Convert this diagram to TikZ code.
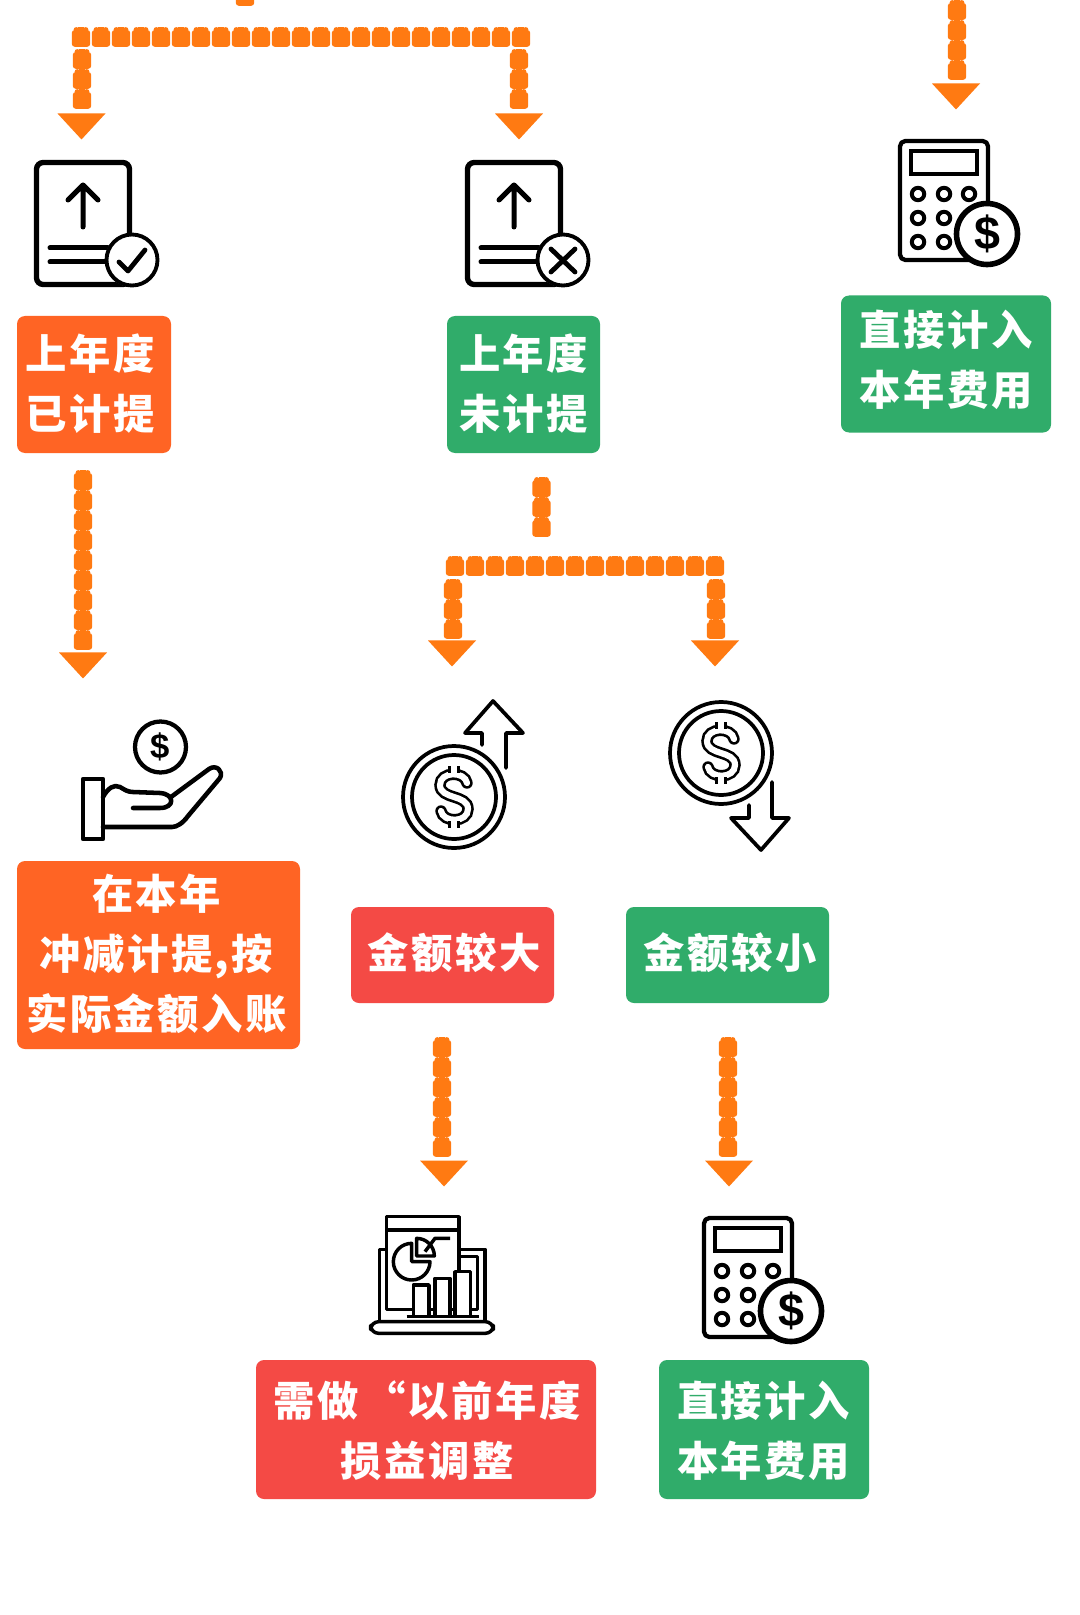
\documentclass[tikz,border=0pt]{standalone}
\usepackage{fontspec}
\usetikzlibrary{shapes.geometric,decorations.markings}
\newfontfamily\cjkb[LetterSpace=6]{Noto Sans CJK SC}
\newfontfamily\dollarfont{Liberation Sans}
\definecolor{dotorange}{RGB}{255,122,18}
\definecolor{boxorange}{RGB}{255,100,36}
\definecolor{boxgreen}{RGB}{48,172,106}
\definecolor{boxred}{RGB}{244,74,69}
\tikzset{
  tag/.style={rounded corners=6pt,inner sep=0pt},
  tago/.style={tag,fill=boxorange},
  tagg/.style={tag,fill=boxgreen},
  tagr/.style={tag,fill=boxred},
  tagtext/.style={text=white,inner sep=0pt,align=center,
    font=\cjkb\bfseries\fontsize{31}{45.2}\selectfont},
  tipnode/.style={isosceles triangle,isosceles triangle apex angle=80,shape border rotate=270,
    fill=dotorange,inner sep=0pt,outer sep=0pt,minimum height=19.5pt,minimum width=36pt,isosceles triangle stretches=true},
  dotline/.style={decorate,decoration={markings,
    mark=between positions 0 and 1 step 15pt with {\pgftransformresetnontranslations
      \fill[dotorange,rounded corners=2.2pt] (-9.2,-7) rectangle (9.2,9.8);
      \fill[dotorange] (-4.7,-7.2) circle (2.7) (4.7,-7.2) circle (2.7);
      \fill[dotorange] (-3,-9.8) rectangle (3,-4);}}},
  ico/.style={line width=4pt,draw=black,line cap=round,line join=round},
  doublesign/.style={draw=black,double=white,line width=2pt,double distance=4.6pt,line cap=round},
  pics/updoc/.style={code={
    \draw[ico,rounded corners=5pt] (36.5,162.5) rectangle (129.5,284.5);
    \draw[ico,line width=3.75pt] (83,227) -- (83,186) (68,200) -- (83,185) -- (98,200);
    \draw[ico,line width=3.75pt] (50,248) -- (108,248) (50,262) -- (108,262);
    \fill[white] (132,260) circle (27);
    \draw[line width=2.9pt] (132,260) circle (25.5);
  }},
  pics/calcdollar/.style={code={
    \draw[ico,rounded corners=4pt,line width=3.2pt] (704,1218) rectangle (792,1337);
    \draw[line width=3.2pt] (715,1228) rectangle (781,1251);
    \foreach \cx in {722,748,773} \foreach \cy in {1271,1295,1319}
      \draw[line width=3pt] (\cx,\cy) circle (6.2);
    \fill[white] (791,1311) circle (32);
    \draw[line width=4.2pt] (791,1311) circle (30.5);
    \node[inner sep=0pt,font=\dollarfont\bfseries\fontsize{35}{35}\selectfont] at (791,1311) {\$};
  }},
  pics/coin/.style={code={
    \draw[line width=2.8pt] (0,0) circle (51);
    \draw[line width=2.8pt] (0,0) circle (42);
    \draw[doublesign] (13,-14) .. controls (11,-26) and (-14,-26) .. (-14,-12)
       .. controls (-14,3) and (14,-3) .. (14,12) .. controls (14,26) and (-11,26) .. (-13,14);
    \draw[doublesign,line cap=butt] (0,-31) -- (0,-24) (0,24) -- (0,31);
  }},
}
\begin{document}
\begin{tikzpicture}[x=.75pt,y=-.75pt]
\useasboundingbox (0,0) rectangle (1080,1615);
\fill[white] (0,0) rectangle (1080,1615);

% label boxes
\node[tago,minimum width=115.5pt,minimum height=102.75pt] (a1) at (94,384.5) {};
\node[tagg,minimum width=114.75pt,minimum height=102.75pt] (a2) at (523.5,384.5) {};
\node[tagg,minimum width=157.5pt,minimum height=102.75pt] (a3) at (946,364) {};
\node[tago,minimum width=212.25pt,minimum height=141pt] (b1) at (158.5,955) {};
\node[tagr,minimum width=152.25pt,minimum height=72pt] (b2) at (452.5,955) {};
\node[tagg,minimum width=152.25pt,minimum height=72pt] (b3) at (727.5,955) {};
\node[tagr,minimum width=255pt,minimum height=104.25pt] (c1) at (426,1429.5) {};
\node[tagg,minimum width=157.5pt,minimum height=104.25pt] (c2) at (764,1429.5) {};

% label texts
\node[tagtext] (a1t) at (90,384) {上年度\\已计提};
\node[tagtext] (a2t) at (523.5,384) {上年度\\未计提};
\node[tagtext] (a3t) at (946,359.5) {直接计入\\本年费用};
\node[tagtext] (b1t) at (156.5,954) {在本年\\冲减计提,按\\实际金额入账};
\node[tagtext] (b2t) at (454,953) {金额较大};
\node[tagtext] (b3t) at (730,953) {金额较小};
\node[tagtext] (c1t) at (427,1431) {需做 \kern-4.6pt“以前年度\\损益调整};
\node[tagtext] (c2t) at (763.5,1431) {直接计入\\本年费用};

% arrow tips
\node[tipnode] (t1) at (81.5,124) {};
\node[tipnode] (t2) at (519,124) {};
\node[tipnode] (t3) at (956,94) {};
\node[tipnode] (t4) at (83,663) {};
\node[tipnode] (t5) at (452,651) {};
\node[tipnode] (t6) at (715,651) {};
\node[tipnode] (t7) at (444,1171) {};
\node[tipnode] (t8) at (729,1171) {};

% free connector ends
\coordinate (s0) at (245,-4);
\coordinate (s1) at (245,1);
\coordinate (h1) at (81,37);
\coordinate (h2) at (521.5,37);
\coordinate (v1a) at (82,59);
\coordinate (v1b) at (82,101);
\coordinate (v2a) at (519,59);
\coordinate (v2b) at (519,101);
\coordinate (r0) at (957,10);
\coordinate (r1) at (957,72);
\coordinate (l0) at (83,480);
\coordinate (l1) at (83,642);
\coordinate (m0) at (541.5,487);
\coordinate (m1) at (541.5,527);
\coordinate (n1) at (455,566);
\coordinate (n2) at (716,566);
\coordinate (o1a) at (453,589);
\coordinate (o1b) at (453,630);
\coordinate (o2a) at (716,589);
\coordinate (o2b) at (716,630);
\coordinate (p0) at (442,1047);
\coordinate (p1) at (442,1147);
\coordinate (q0) at (728,1047);
\coordinate (q1) at (728,1147);

% beaded connectors
\path[dotline] (s0) -- (s1);
\path[dotline] (h1) -- (h2);
\path[dotline] (v1a) -- (v1b);
\path[dotline] (v2a) -- (v2b);
\path[dotline] (r0) -- (r1);
\path[dotline] (l0) -- (l1);
\path[dotline] (m0) -- (m1);
\path[dotline] (n1) -- (n2);
\path[dotline] (o1a) -- (o1b);
\path[dotline] (o2a) -- (o2b);
\path[dotline] (p0) -- (p1);
\path[dotline] (q0) -- (q1);

% upload document icons
\pic {updoc};
\draw[line width=3.6pt,line cap=round,line join=round] (119,262) -- (128,271) -- (145,250);
\begin{scope}[shift={(431,0)}]
\pic {updoc};
\draw[line width=3.6pt,line cap=round] (120,249) -- (144,272) (144,249) -- (120,272);
\end{scope}

% calculators
\pic {calcdollar};
\pic[shift={(196,-1077)}] {calcdollar};

% hand
\draw[line width=3.2pt] (160.5,747) circle (25.5);
\node[inner sep=0pt,font=\dollarfont\bfseries\fontsize{26}{26}\selectfont] at (160.5,747) {\$};
\draw[ico,line width=3.4pt] (83,779) rectangle (103,839);
\draw[ico,line width=3.4pt] (103,797) .. controls (108,788) and (114,784) .. (120,787)
  .. controls (125,790) and (128,792) .. (133,792) -- (160,793)
  .. controls (175,794) and (175,808) .. (160,808) -- (133,808)
  (171,797) -- (209,769) .. controls (216,764) and (224,771) .. (220,778) -- (188,816)
  .. controls (183,823) and (177,827) .. (172,827) -- (103,827);

% coin with arrows
\pic at (454,797) {coin};
\draw[ico,line width=2.8pt] (482,745) -- (482,733) -- (465,733) -- (493,701) -- (523,733) -- (506,733) -- (506,768);
\pic at (721,753) {coin};
\draw[ico,line width=2.8pt] (749,805) -- (749,818) -- (731,818) -- (761,850) -- (789,818) -- (772,818) -- (772,782);

% report on laptop
\begin{scope}[shift={(350,1200)},x=.25pt,y=-.25pt,line width=2.6pt,line join=round]
\draw (110,50) rectangle (327,328);
\draw (110,90) -- (327,90);
\draw (110,148) -- (88,148) -- (88,365);
\draw (327,148) -- (405,148) -- (405,365);
\draw (327,170) -- (383,170) -- (383,328) -- (362,328);
\draw[rounded corners=6pt] (62,365) -- (430,365) -- (430,400) -- (62,400) -- cycle;
\draw[fill=white] (190,350) rectangle (237,255);
\draw[fill=white] (255,350) rectangle (300,235);
\draw[fill=white] (315,350) rectangle (362,215);
\draw (170,350) -- (388,350);
\draw (185,130) arc[start angle=-90,end angle=-360,radius=55] -- (185,185) -- cycle;
\draw (200,115) -- (200,168) -- (253,168) arc[start angle=0,end angle=-90,radius=53] -- cycle;
\draw (225,155) -- (255,115) -- (300,115);
\end{scope}
\end{tikzpicture}
\end{document}
